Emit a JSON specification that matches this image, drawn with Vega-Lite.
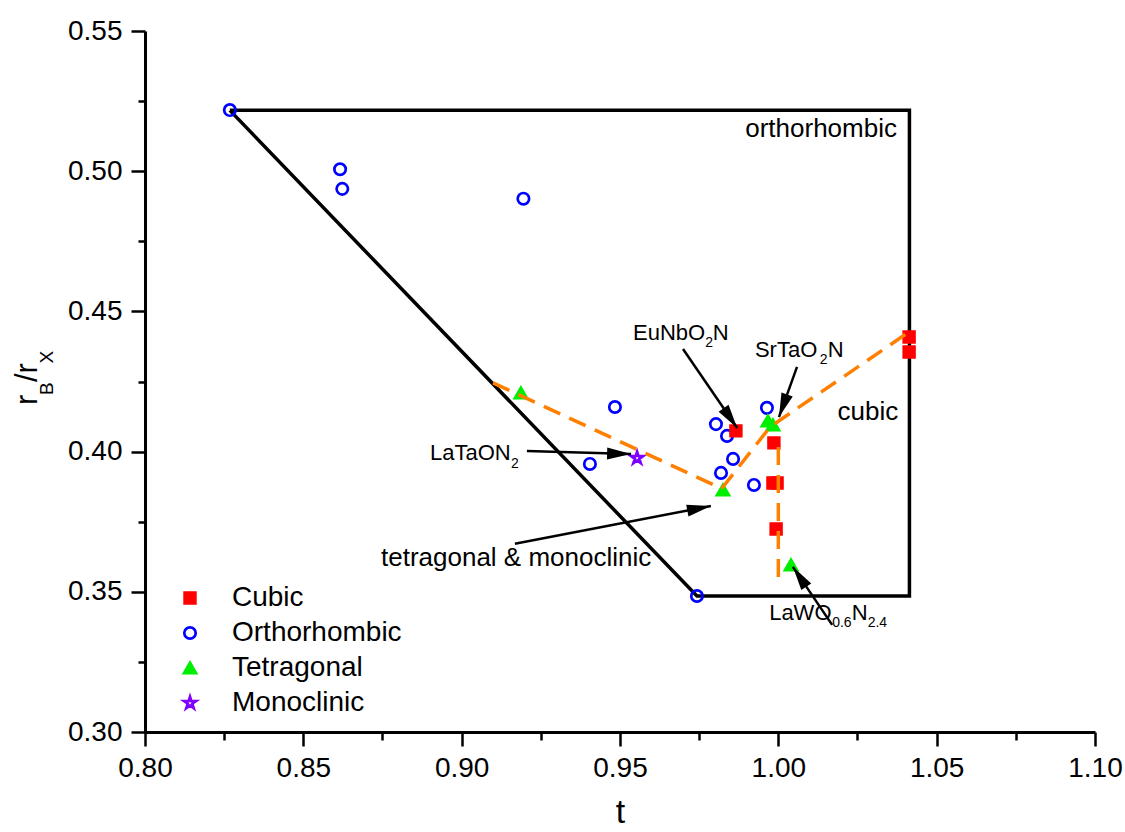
{
  "$schema": "https://vega.github.io/schema/vega-lite/v6.json",
  "width": 950,
  "height": 701,
  "autosize": {"type": "none"},
  "padding": {"left": 145, "top": 31, "right": 30, "bottom": 100},
  "background": "white",
  "config": {
    "font": "Liberation Sans",
    "view": {"stroke": null},
    "axis": {"grid": false, "domainColor": "black", "domainWidth": 3, "tickColor": "black", "tickWidth": 2.5, "labelColor": "black", "labelFont": "Liberation Sans", "labelFontSize": 28, "labelFlush": false, "labelOverlap": false, "titleColor": "black", "titleFont": "Liberation Sans", "titleFontWeight": "normal"},
    "legend": {"labelFontSize": 28, "labelFont": "Liberation Sans", "labelColor": "black", "labelLimit": 400, "rowPadding": 7, "labelOffset": 28, "symbolStrokeWidth": 2.7, "padding": 0}
  },
  "datasets": {
    "pts": [
      {"type": "Orthorhombic", "t": 0.8268, "r": 0.5218},
      {"type": "Orthorhombic", "t": 0.8616, "r": 0.5007},
      {"type": "Orthorhombic", "t": 0.8623, "r": 0.4937},
      {"type": "Orthorhombic", "t": 0.9195, "r": 0.4902},
      {"type": "Orthorhombic", "t": 0.9484, "r": 0.4159},
      {"type": "Orthorhombic", "t": 0.9405, "r": 0.3956},
      {"type": "Orthorhombic", "t": 0.9803, "r": 0.4098},
      {"type": "Orthorhombic", "t": 0.9838, "r": 0.4056},
      {"type": "Orthorhombic", "t": 0.9857, "r": 0.3974},
      {"type": "Orthorhombic", "t": 0.9819, "r": 0.3924},
      {"type": "Orthorhombic", "t": 0.9923, "r": 0.3881},
      {"type": "Orthorhombic", "t": 0.9964, "r": 0.4156},
      {"type": "Orthorhombic", "t": 0.9743, "r": 0.3485},
      {"type": "Cubic", "t": 0.9866, "r": 0.4074},
      {"type": "Cubic", "t": 0.9986, "r": 0.4031},
      {"type": "Cubic", "t": 0.9983, "r": 0.3888},
      {"type": "Cubic", "t": 0.9996, "r": 0.3888},
      {"type": "Cubic", "t": 0.9993, "r": 0.3724},
      {"type": "Cubic", "t": 1.0413, "r": 0.4409},
      {"type": "Cubic", "t": 1.0413, "r": 0.4355},
      {"type": "Tetragonal", "t": 0.9187, "r": 0.4209},
      {"type": "Tetragonal", "t": 0.9825, "r": 0.3863},
      {"type": "Tetragonal", "t": 0.9967, "r": 0.4109},
      {"type": "Tetragonal", "t": 0.9983, "r": 0.4095},
      {"type": "Tetragonal", "t": 1.004, "r": 0.3596},
      {"type": "Monoclinic", "t": 0.9554, "r": 0.3977}
    ],
    "boxline": [
      {"i": 0, "t": 0.8268, "r": 0.5217},
      {"i": 1, "t": 1.0414, "r": 0.5217},
      {"i": 2, "t": 1.0414, "r": 0.3485},
      {"i": 3, "t": 0.9743, "r": 0.3485},
      {"i": 4, "t": 0.8268, "r": 0.5217}
    ],
    "dashed": [
      {"seg": "a", "i": 0, "t": 0.9099, "r": 0.4245},
      {"seg": "a", "i": 1, "t": 0.9821, "r": 0.3868},
      {"seg": "a", "i": 2, "t": 0.9974, "r": 0.4088},
      {"seg": "a", "i": 3, "t": 1.0408, "r": 0.4423},
      {"seg": "b", "i": 0, "t": 1.0, "r": 0.4016},
      {"seg": "b", "i": 1, "t": 1.0, "r": 0.3517}
    ],
    "arrowlines": [
      {"name": "EuNbO2N", "t": 0.9699, "r": 0.4366, "t2": 0.9870, "r2": 0.4084},
      {"name": "SrTaO2N", "t": 1.0059, "r": 0.4302, "t2": 1.0002, "r2": 0.4123},
      {"name": "LaWO", "t": 1.0170, "r": 0.3382, "t2": 1.0046, "r2": 0.3589},
      {"name": "LaTaON2", "t": 0.9206, "r": 0.4002, "t2": 0.9535, "r2": 0.3991},
      {"name": "tetmono", "t": 0.9168, "r": 0.3671, "t2": 0.9787, "r2": 0.3806}
    ],
    "formulaMain": [
      {"txt": "EuNbO", "t": 0.9541, "r": 0.4398},
      {"txt": "N", "t": 0.9793, "r": 0.4398},
      {"txt": "SrTaO", "t": 0.9926, "r": 0.4337},
      {"txt": "N", "t": 1.0156, "r": 0.4337},
      {"txt": "LaTaON", "t": 0.8900, "r": 0.3970},
      {"txt": "LaWO", "t": 0.9971, "r": 0.3400},
      {"txt": "N", "t": 1.0232, "r": 0.3400}
    ],
    "formulaSub": [
      {"txt": "2", "t": 0.9769, "r": 0.4373},
      {"txt": "2", "t": 1.0131, "r": 0.4312},
      {"txt": "2", "t": 0.9156, "r": 0.3942},
      {"txt": "0.6", "t": 1.0170, "r": 0.3375},
      {"txt": "2.4", "t": 1.0282, "r": 0.3375}
    ],
    "plainlabels": [
      {"txt": "orthorhombic", "t": 1.0135, "r": 0.5122},
      {"txt": "cubic", "t": 1.0283, "r": 0.4113},
      {"txt": "tetragonal & monoclinic", "t": 0.9172, "r": 0.3592}
    ],
    "ytitleMain": [
      {"txt": "r", "t": 0.7659, "r": 0.4166},
      {"txt": "/r", "t": 0.7659, "r": 0.4248}
    ],
    "ytitleSub": [
      {"txt": "B", "t": 0.7708, "r": 0.4202},
      {"txt": "X", "t": 0.7708, "r": 0.4314}
    ]
  },
  "encoding": {
    "x": {"field": "t", "type": "quantitative", "scale": {"domain": [0.8, 1.1], "nice": false, "zero": false},
      "axis": {"orient": "bottom", "title": "t", "titleFontSize": 34, "titlePadding": 13, "values": [0.8, 0.825, 0.85, 0.875, 0.9, 0.925, 0.95, 0.975, 1.0, 1.025, 1.05, 1.075, 1.1], "format": ".2f",
        "labelExpr": "abs(datum.value*20 - round(datum.value*20)) > 0.01 ? '' : datum.label",
        "tickSize": {"condition": {"test": "abs(datum.value*20 - round(datum.value*20)) > 0.01", "value": 8}, "value": 14},
        "labelPadding": 8}},
    "y": {"field": "r", "type": "quantitative", "scale": {"domain": [0.3, 0.55], "nice": false, "zero": false},
      "axis": {"orient": "left", "title": null, "values": [0.3, 0.325, 0.35, 0.375, 0.4, 0.425, 0.45, 0.475, 0.5, 0.525, 0.55], "format": ".2f",
        "labelExpr": "abs(datum.value*20 - round(datum.value*20)) > 0.01 ? '' : datum.label",
        "tickSize": {"condition": {"test": "abs(datum.value*20 - round(datum.value*20)) > 0.01", "value": 7}, "value": 14},
        "labelPadding": 9}}
  },
  "layer": [
    {
      "data": {"name": "boxline"},
      "mark": {"type": "line", "color": "black", "strokeWidth": 3.5, "strokeJoin": "miter"},
      "encoding": {"order": {"field": "i", "type": "quantitative"}}
    },
    {
      "data": {"name": "pts"},
      "mark": {"type": "point", "filled": true, "strokeWidth": 2.7, "opacity": 1},
      "encoding": {
        "shape": {"field": "type", "type": "nominal", "scale": {"domain": ["Cubic", "Orthorhombic", "Tetragonal", "Monoclinic"], "range": ["square", "circle", "triangle-up", "M0,-1L0.223,-0.307L0.951,-0.309L0.361,0.117L0.588,0.809L0,0.38L-0.588,0.809L-0.361,0.117L-0.951,-0.309L-0.223,-0.307Z"]},
          "legend": {"title": null, "orient": "none", "legendX": 31, "legendY": 553}},
        "fill": {"field": "type", "type": "nominal", "scale": {"domain": ["Cubic", "Orthorhombic", "Tetragonal", "Monoclinic"], "range": ["#FF0000", "transparent", "#00EE00", "transparent"]},
          "legend": {"title": null, "orient": "none", "legendX": 31, "legendY": 553}},
        "stroke": {"field": "type", "type": "nominal", "scale": {"domain": ["Cubic", "Orthorhombic", "Tetragonal", "Monoclinic"], "range": ["#FF0000", "#0000FF", "#00EE00", "#8000FF"]},
          "legend": {"title": null, "orient": "none", "legendX": 31, "legendY": 553}},
        "size": {"field": "type", "type": "nominal", "scale": {"domain": ["Cubic", "Orthorhombic", "Tetragonal", "Monoclinic"], "range": [115, 160, 230, 330]},
          "legend": {"title": null, "orient": "none", "legendX": 31, "legendY": 553}}
      }
    },
    {
      "data": {"name": "dashed"},
      "mark": {"type": "line", "color": "#FF8000", "strokeWidth": 3.5, "strokeDash": [18, 10]},
      "encoding": {
        "detail": {"field": "seg", "type": "nominal"},
        "order": {"field": "i", "type": "quantitative"}
      }
    },
    {
      "data": {"name": "arrowlines"},
      "mark": {"type": "rule", "color": "black", "strokeWidth": 2.5},
      "encoding": {"x2": {"field": "t2"}, "y2": {"field": "r2"}}
    },
    {
      "data": {"name": "arrowlines"},
      "transform": [{"filter": "datum.name == 'EuNbO2N'"}],
      "mark": {"type": "point", "shape": "M0,0L0.5,2L-0.5,2Z", "filled": true, "color": "black", "opacity": 1, "size": 576, "angle": 145.6},
      "encoding": {"x": {"field": "t2", "type": "quantitative"}, "y": {"field": "r2", "type": "quantitative"}}
    },
    {
      "data": {"name": "arrowlines"},
      "transform": [{"filter": "datum.name == 'SrTaO2N'"}],
      "mark": {"type": "point", "shape": "M0,0L0.5,2L-0.5,2Z", "filled": true, "color": "black", "opacity": 1, "size": 576, "angle": 199.8},
      "encoding": {"x": {"field": "t2", "type": "quantitative"}, "y": {"field": "r2", "type": "quantitative"}}
    },
    {
      "data": {"name": "arrowlines"},
      "transform": [{"filter": "datum.name == 'LaWO'"}],
      "mark": {"type": "point", "shape": "M0,0L0.5,2L-0.5,2Z", "filled": true, "color": "black", "opacity": 1, "size": 576, "angle": 326.1},
      "encoding": {"x": {"field": "t2", "type": "quantitative"}, "y": {"field": "r2", "type": "quantitative"}}
    },
    {
      "data": {"name": "arrowlines"},
      "transform": [{"filter": "datum.name == 'LaTaON2'"}],
      "mark": {"type": "point", "shape": "M0,0L0.5,2L-0.5,2Z", "filled": true, "color": "black", "opacity": 1, "size": 576, "angle": 91.6},
      "encoding": {"x": {"field": "t2", "type": "quantitative"}, "y": {"field": "r2", "type": "quantitative"}}
    },
    {
      "data": {"name": "arrowlines"},
      "transform": [{"filter": "datum.name == 'tetmono'"}],
      "mark": {"type": "point", "shape": "M0,0L0.5,2L-0.5,2Z", "filled": true, "color": "black", "opacity": 1, "size": 576, "angle": 79.0},
      "encoding": {"x": {"field": "t2", "type": "quantitative"}, "y": {"field": "r2", "type": "quantitative"}}
    },
    {
      "data": {"name": "formulaMain"},
      "mark": {"type": "text", "align": "left", "baseline": "alphabetic", "color": "black", "font": "Liberation Sans", "fontSize": 22},
      "encoding": {"text": {"field": "txt"}}
    },
    {
      "data": {"name": "formulaSub"},
      "mark": {"type": "text", "align": "left", "baseline": "alphabetic", "color": "black", "font": "Liberation Sans", "fontSize": 14},
      "encoding": {"text": {"field": "txt"}}
    },
    {
      "data": {"name": "plainlabels"},
      "mark": {"type": "text", "align": "center", "baseline": "alphabetic", "color": "black", "font": "Liberation Sans", "fontSize": 26},
      "encoding": {"text": {"field": "txt"}}
    },
    {
      "data": {"name": "ytitleMain"},
      "mark": {"type": "text", "align": "left", "baseline": "alphabetic", "color": "black", "font": "Liberation Sans", "fontSize": 31, "angle": 270},
      "encoding": {"text": {"field": "txt"}}
    },
    {
      "data": {"name": "ytitleSub"},
      "mark": {"type": "text", "align": "left", "baseline": "alphabetic", "color": "black", "font": "Liberation Sans", "fontSize": 19, "angle": 270},
      "encoding": {"text": {"field": "txt"}}
    }
  ]
}
